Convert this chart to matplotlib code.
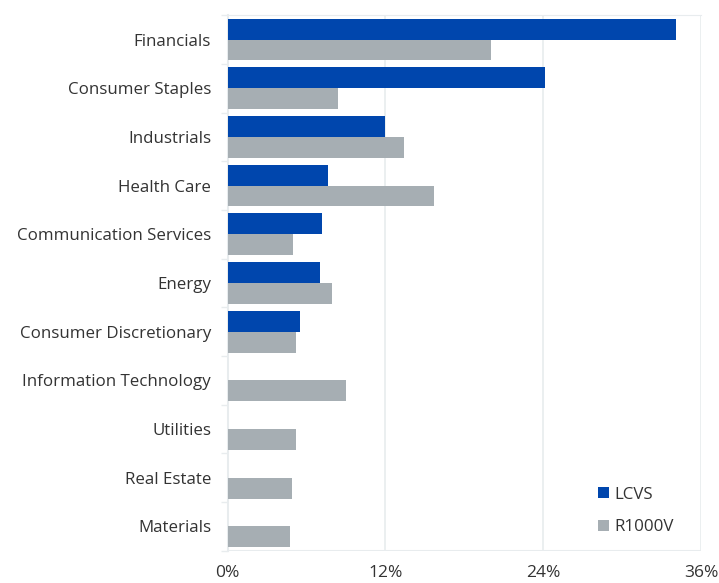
import matplotlib.pyplot as plt
import numpy as np
from matplotlib.ticker import FuncFormatter

plt.rcParams['font.family'] = ['Open Sans', 'DejaVu Sans']

# Sector weights (%)
sectors = ['Financials', 'Consumer Staples', 'Industrials', 'Health Care',
           'Communication Services', 'Energy', 'Consumer Discretionary',
           'Information Technology', 'Utilities', 'Real Estate', 'Materials']
lcvs = [34.1, 24.1, 12.0, 7.6, 7.2, 7.0, 5.5, 0, 0, 0, 0]
r1000v = [20.0, 8.4, 13.4, 15.7, 5.0, 7.9, 5.2, 9.0, 5.2, 4.9, 4.7]
xticks = [0, 12, 24, 36]

blue = '#0046AD'
gray = '#A6AEB3'
light = '#E8ECEE'
text = '#333333'

fig = plt.figure(figsize=(7.19, 5.83), dpi=100)
ax = fig.add_axes([0.3167, 0.0554, 0.6583, 0.9186])

y = np.arange(len(sectors))
h = 0.43
ax.barh(y - h / 2, lcvs, height=h, color=blue, label='LCVS', zorder=3)
ax.barh(y + h / 2, r1000v, height=h, color=gray, label='R1000V', zorder=3)

ax.set_ylim(len(sectors) - 0.5, -0.5)
ax.set_xlim(0, 36)
ax.set_xticks(xticks)
ax.xaxis.set_major_formatter(FuncFormatter(lambda v, p: f'{v:.0f}%'))
ax.set_yticks(y)
ax.set_yticklabels(sectors)
ax.set_yticks(np.arange(-0.5, len(sectors), 1), minor=True)

ax.grid(axis='x', color=light, linewidth=1.2, zorder=0)
for s in ['right', 'bottom']:
    ax.spines[s].set_visible(False)
ax.spines['top'].set_color(light)
ax.spines['left'].set_color(light)
ax.spines['left'].set_linewidth(1.5)
ax.axhline(len(sectors) - 0.5, color=light, linewidth=1.5, zorder=1)

ax.tick_params(axis='y', which='major', length=0, pad=12, labelsize=12.2, labelcolor=text)
ax.tick_params(axis='y', which='minor', length=5, color=light, width=1.0)
ax.tick_params(axis='x', length=0, pad=10.5, labelsize=12.5, labelcolor=text)

ax.legend(loc='lower right', bbox_to_anchor=(0.975, 0.0), frameon=False,
          handlelength=0.65, handleheight=0.65, handletextpad=0.3,
          labelspacing=1.0, fontsize=12.2, labelcolor=text)

fig.savefig('out.png', dpi=100)
